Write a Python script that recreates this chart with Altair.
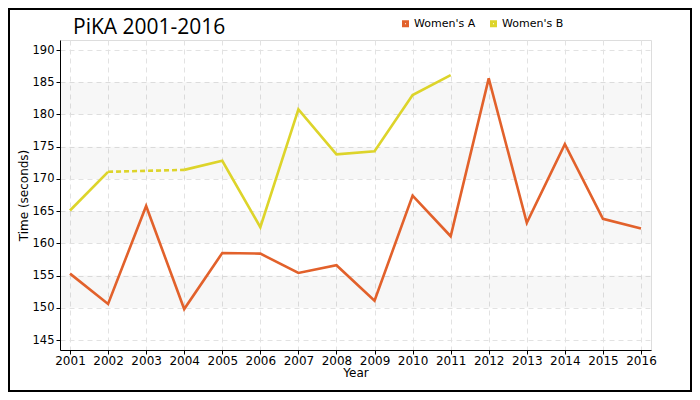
import altair as alt
import pandas as pd

# ---- data ----
years = list(range(2001, 2017))
womens_a = [155.3, 150.6, 165.8, 149.8, 158.5, 158.4, 155.4, 156.6, 151.1,
            167.4, 161.1, 185.6, 163.2, 175.4, 163.8, 162.3]
womens_b = [165.1, 171.1, None, 171.4, 172.8, 162.5, 180.8, 173.8, 174.3,
            183.0, 186.1, None, None, None, None, None]
series_names = ["Women's A", "Women's B"]
series_colors = ["#E2612B", "#DDD42A"]
y_ticks = list(range(145, 195, 5))
band_starts = [150, 160, 170, 180]
band_size = 5
title_text = "PiKA 2001-2016"
x_title = "Year"
y_title = "Time (seconds)"

# ---- build tables ----
solid_rows, gap_rows = [], []
for name, vals in zip(series_names, [womens_a, womens_b]):
    seg = 0
    last_valid = None
    gap_open = False
    for yr, v in zip(years, vals):
        if v is None:
            seg += 1
            gap_open = last_valid is not None
            continue
        solid_rows.append({"year": yr, "time": v, "series": name, "seg": f"{name}-{seg}"})
        if gap_open:
            gid = f"{name}-gap-{seg}"
            gap_rows.append({"year": last_valid[0], "time": last_valid[1], "series": name, "gid": gid})
            gap_rows.append({"year": yr, "time": v, "series": name, "gid": gid})
            gap_open = False
        last_valid = (yr, v)

solid_df = pd.DataFrame(solid_rows)
gap_df = pd.DataFrame(gap_rows)
band_df = pd.DataFrame({"lo": band_starts, "hi": [b + band_size for b in band_starts]})

W, H = 591, 310
FONT = "DejaVu Sans"

x_scale = alt.Scale(domain=[years[0], years[-1]], padding=10, nice=False, zero=False)
y_scale = alt.Scale(domain=[y_ticks[0], y_ticks[-1]], padding=10, nice=False, zero=False)
color_scale = alt.Scale(domain=series_names, range=series_colors)

legend = alt.Legend(
    orient="none", legendX=340, legendY=-22, direction="horizontal",
    title=None, symbolType="square", symbolSize=16, symbolStrokeWidth=3,
    labelFont=FONT, labelFontSize=11, labelColor="black",
    columnPadding=9, labelOffset=3,
)

x_axis = alt.Axis(values=years, format="d", title=x_title, grid=True,
                  gridDash=[5, 4], gridColor="#e2e2e2", domainColor="black",
                  tickColor="black", tickSize=4, labelFont=FONT, labelFontSize=12,
                  labelColor="black", labelPadding=1, labelFlush=False,
                  labelOverlap=False,
                  titleFont=FONT, titleFontSize=12, titleFontWeight="normal",
                  titlePadding=1, titleColor="black")
y_axis = alt.Axis(values=y_ticks, title=y_title, grid=True,
                  gridDash=[5, 4], gridColor="#e2e2e2", domainColor="black",
                  tickColor="black", tickSize=4, labelFont=FONT, labelFontSize=11.5,
                  labelColor="black", labelPadding=2, labelOverlap=False,
                  labelFlush=False,
                  titleFont=FONT, titleFontSize=12, titleFontWeight="normal",
                  titlePadding=2, titleColor="black")

bands = alt.Chart(band_df).mark_rect(fill="black", opacity=0.03).encode(
    y=alt.Y("lo:Q", scale=y_scale, axis=y_axis),
    y2="hi:Q",
    x=alt.value(0), x2=alt.value(W),
)

lines = alt.Chart(solid_df).mark_line(strokeWidth=2.6).encode(
    x=alt.X("year:Q", scale=x_scale, axis=x_axis),
    y=alt.Y("time:Q", scale=y_scale, axis=y_axis),
    color=alt.Color("series:N", scale=color_scale, legend=legend),
    detail="seg:N",
)

gaps = alt.Chart(gap_df).mark_line(strokeWidth=2.6, strokeDash=[5, 3]).encode(
    x=alt.X("year:Q", scale=x_scale, axis=x_axis),
    y=alt.Y("time:Q", scale=y_scale, axis=y_axis),
    color=alt.Color("series:N", scale=color_scale, legend=legend),
    detail="gid:N",
)

title = alt.Chart(pd.DataFrame({"t": [title_text]})).mark_text(
    font="Open Sans", fontSize=21, align="left", baseline="alphabetic", color="black"
).encode(text="t:N", x=alt.value(13), y=alt.value(-6))

border = alt.Chart(pd.DataFrame({"b": [0]})).mark_rect(
    fillOpacity=0, stroke="black", strokeWidth=2
).encode(x=alt.value(-51), x2=alt.value(631), y=alt.value(-31), y2=alt.value(351))

chart = alt.layer(bands, lines, gaps, title, border).properties(
    width=W, height=H,
    autosize=alt.AutoSizeParams(type="none"),
    padding={"left": 52, "top": 32, "right": 41, "bottom": 42},
).configure_view(stroke=None).configure(background="white")

chart.save("out.html", embed_options={"renderer": "svg", "actions": False})
